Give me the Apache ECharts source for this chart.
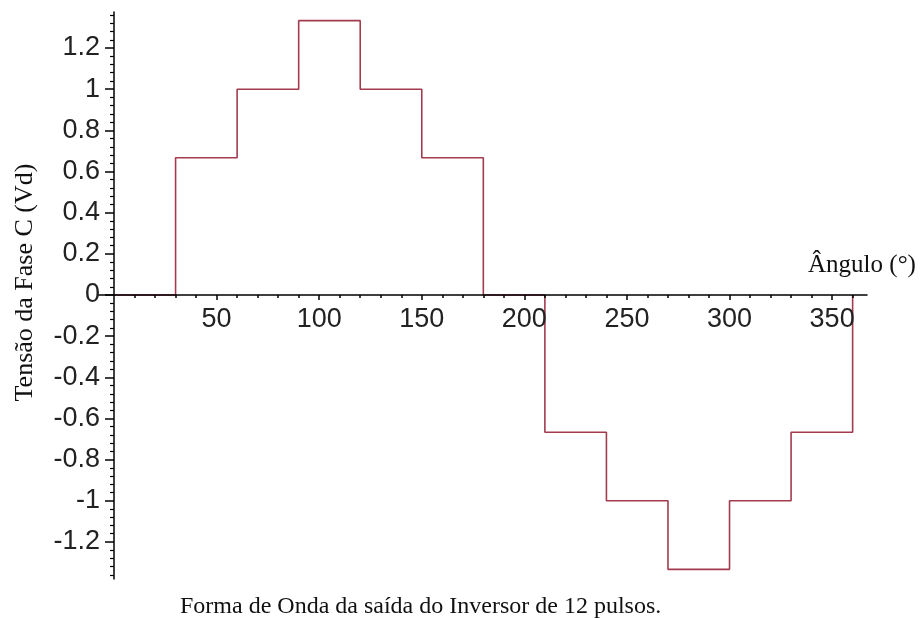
<!DOCTYPE html>
<html>
<head>
<meta charset="utf-8">
<script src="https://cdn.jsdelivr.net/npm/echarts@6/dist/echarts.min.js"></script>
<style>html,body{margin:0;padding:0;background:#fff}#c{width:923px;height:618px}</style>
</head>
<body>
<div id="c"></div>
<script>
// Step breakpoints (degrees) and the level held from each breakpoint
const angles = [0, 30, 60, 90, 120, 150, 180, 210, 240, 270, 300, 330, 360];
const levels = [0, 0.667, 1, 1.333, 1, 0.667, 0, -0.667, -1, -1.333, -1, -0.667, 0];
const xTickLabels = [50, 100, 150, 200, 250, 300, 350];
const xMinorTicks = [10,20,30,40,60,70,80,90,110,120,130,140,160,170,180,190,210,220,230,240,260,270,280,290,310,320,330,340,360];
const yTickLabels = [-1.2, -1, -0.8, -0.6, -0.4, -0.2, 0, 0.2, 0.4, 0.6, 0.8, 1, 1.2];
const yMinorTicks = [];
for (let k = -34; k <= 34; k++) { if (k % 5 !== 0) yMinorTicks.push(+(k * 0.04).toFixed(2)); }

const X_MIN = -8, X_MAX = 367, Y_MIN = -1.38, Y_MAX = 1.375;
const W = 923, H = 618;
const G = {left: 97.6, right: 56, top: 12, bottom: 39};
const gridW = W - G.left - G.right, gridH = H - G.top - G.bottom;
// axes cross at the origin: shift each axis from the grid edge to the zero of the other scale
const xAxisOffset = -gridH * (0 - Y_MIN) / (Y_MAX - Y_MIN);
const yAxisOffset = -gridW * (0 - X_MIN) / (X_MAX - X_MIN);

const serif = '"Liberation Serif", "DejaVu Serif", serif';
const sans = '"Liberation Sans", Arial, sans-serif';

const chart = echarts.init(document.getElementById('c'), null, {renderer: 'canvas'});
chart.setOption({
  animation: false,
  backgroundColor: '#ffffff',
  title: {
    text: 'Forma de Onda da saída do Inversor de 12 pulsos.',
    left: 175, top: 590,
    textStyle: {fontFamily: serif, fontSize: 24, fontWeight: 'normal', color: '#111'}
  },
  grid: Object.assign({containLabel: false, outerBoundsMode: 'none'}, G),
  xAxis: [{
    type: 'value', min: X_MIN, max: X_MAX, position: 'bottom', offset: xAxisOffset, z: 5,
    name: 'Ângulo (°)', nameLocation: 'end', nameGap: -5, nameMoveOverlap: false,
    nameTextStyle: {fontFamily: serif, fontSize: 25, color: '#111', align: 'center', verticalAlign: 'bottom', padding: [0, 0, 17, 0]},
    axisLine: {onZero: false, lineStyle: {color: '#000', width: 1.5}},
    axisTick: {show: true, length: 5, customValues: xTickLabels, lineStyle: {color: '#000', width: 1.5}},
    axisLabel: {customValues: xTickLabels, margin: 11, fontFamily: sans, fontSize: 27, color: '#222'},
    splitLine: {show: false}
  }, {
    type: 'value', min: X_MIN, max: X_MAX, position: 'bottom', offset: xAxisOffset, z: 5,
    axisLine: {show: false, onZero: false},
    axisTick: {show: true, length: 3, customValues: xMinorTicks, lineStyle: {color: '#000', width: 1.5}},
    axisLabel: {show: false},
    splitLine: {show: false}
  }],
  yAxis: [{
    type: 'value', min: Y_MIN, max: Y_MAX, position: 'left', offset: yAxisOffset, z: 5,
    name: 'Tensão da Fase C (Vd)', nameLocation: 'middle', nameRotate: 90, nameGap: 76, nameMoveOverlap: false,
    nameTextStyle: {fontFamily: serif, fontSize: 26, color: '#111', padding: [0, 0, 0, 26]},
    axisLine: {onZero: false, lineStyle: {color: '#000', width: 1.5}},
    axisTick: {show: true, length: 9, customValues: yTickLabels, lineStyle: {color: '#000', width: 1.5}},
    axisLabel: {customValues: yTickLabels, margin: 14, fontFamily: sans, fontSize: 27, color: '#222',
      formatter: v => String(+v.toFixed(1))},
    splitLine: {show: false}
  }, {
    type: 'value', min: Y_MIN, max: Y_MAX, position: 'left', offset: yAxisOffset, z: 5,
    axisLine: {show: false, onZero: false},
    axisTick: {show: true, length: 4, customValues: yMinorTicks, lineStyle: {color: '#000', width: 1.2}},
    axisLabel: {show: false},
    splitLine: {show: false}
  }],
  series: [{
    type: 'line', step: 'end', xAxisIndex: 0, yAxisIndex: 0,
    data: angles.map((a, i) => [a, levels[i]]),
    showSymbol: false, symbol: 'none',
    lineStyle: {color: '#a33b4f', width: 1.6},
    z: 1
  }]
});
</script>
</body>
</html>
